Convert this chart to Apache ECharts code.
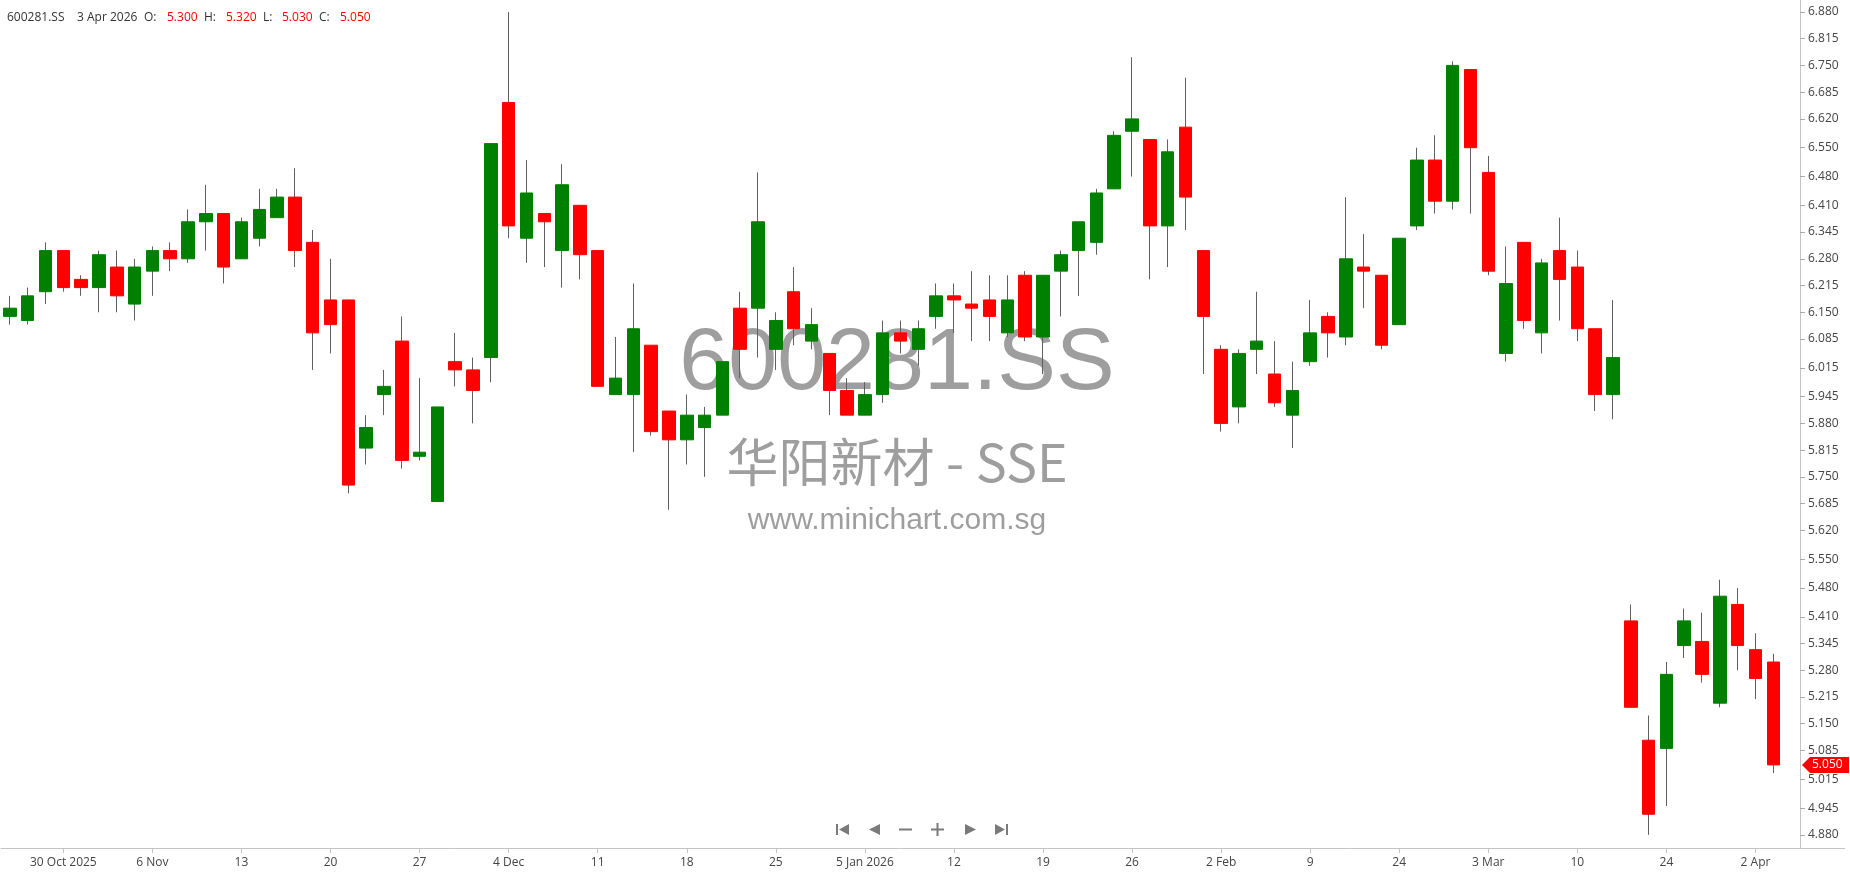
<!DOCTYPE html>
<html><head><meta charset="utf-8">
<script src="https://cdn.jsdelivr.net/npm/echarts@6/dist/echarts.min.js"></script>
<style>html,body{margin:0;padding:0;background:#fff;}#c{width:1850px;height:874px;}</style>
</head><body><div id="c"></div>
<script>
const symbolName = '600281.SS';
const companyLine = '华阳新材 - SSE';
const siteLine = 'www.minichart.com.sg';

const dates = [
'2025-10-27','2025-10-28','2025-10-29','2025-10-30','2025-10-31',
'2025-11-03','2025-11-04','2025-11-05','2025-11-06','2025-11-07',
'2025-11-10','2025-11-11','2025-11-12','2025-11-13','2025-11-14',
'2025-11-17','2025-11-18','2025-11-19','2025-11-20','2025-11-21',
'2025-11-24','2025-11-25','2025-11-26','2025-11-27','2025-11-28',
'2025-12-01','2025-12-02','2025-12-03','2025-12-04','2025-12-05',
'2025-12-08','2025-12-09','2025-12-10','2025-12-11','2025-12-12',
'2025-12-15','2025-12-16','2025-12-17','2025-12-18','2025-12-19',
'2025-12-22','2025-12-23','2025-12-24','2025-12-25','2025-12-26',
'2025-12-29','2025-12-30','2025-12-31',
'2026-01-05','2026-01-06','2026-01-07','2026-01-08','2026-01-09',
'2026-01-12','2026-01-13','2026-01-14','2026-01-15','2026-01-16',
'2026-01-19','2026-01-20','2026-01-21','2026-01-22','2026-01-23',
'2026-01-26','2026-01-27','2026-01-28','2026-01-29','2026-01-30',
'2026-02-02','2026-02-03','2026-02-04','2026-02-05','2026-02-06',
'2026-02-09','2026-02-10','2026-02-11','2026-02-12','2026-02-13',
'2026-02-24','2026-02-25','2026-02-26','2026-02-27',
'2026-03-02','2026-03-03','2026-03-04','2026-03-05','2026-03-06',
'2026-03-09','2026-03-10','2026-03-11','2026-03-12',
'2026-03-20','2026-03-23','2026-03-24','2026-03-25','2026-03-26','2026-03-27','2026-04-01',
'2026-04-02','2026-04-03'
];

const opens = [
6.14,6.13,6.20,6.30,6.23,6.21,6.26,6.17,6.25,6.30,
6.28,6.37,6.39,6.28,6.33,6.38,6.43,6.32,6.18,6.18,
5.82,5.95,6.08,5.80,5.69,6.03,6.01,6.04,6.66,6.33,
6.39,6.30,6.41,6.30,5.95,5.95,6.07,5.91,5.84,5.87,
5.90,6.16,6.16,6.06,6.20,6.08,6.05,5.96,5.90,5.95,
6.10,6.06,6.14,6.19,6.17,6.18,6.10,6.24,6.09,6.25,
6.30,6.32,6.45,6.59,6.57,6.36,6.60,6.30,6.06,5.92,
6.06,6.00,5.90,6.03,6.14,6.09,6.26,6.24,6.12,6.36,
6.52,6.42,6.74,6.49,6.05,6.32,6.10,6.30,6.26,6.11,
5.95,5.40,5.11,5.09,5.34,5.35,5.20,5.44,5.33,5.30
];
const highs = [
6.19,6.21,6.32,6.30,6.24,6.30,6.30,6.28,6.31,6.32,
6.40,6.46,6.39,6.38,6.45,6.45,6.50,6.35,6.28,6.18,
5.90,6.01,6.14,5.99,5.92,6.10,6.04,6.56,6.88,6.52,
6.39,6.51,6.41,6.30,6.09,6.22,6.07,5.91,5.95,5.92,
6.03,6.20,6.49,6.15,6.26,6.16,6.05,5.99,5.98,6.13,
6.13,6.13,6.22,6.22,6.25,6.24,6.24,6.25,6.24,6.30,
6.37,6.45,6.59,6.77,6.57,6.57,6.72,6.30,6.07,6.06,
6.20,6.08,6.03,6.18,6.15,6.43,6.34,6.24,6.33,6.55,
6.58,6.76,6.74,6.53,6.31,6.32,6.28,6.38,6.30,6.11,
6.18,5.44,5.17,5.30,5.43,5.42,5.50,5.48,5.37,5.32
];
const lows = [
6.12,6.12,6.17,6.20,6.19,6.15,6.15,6.13,6.19,6.25,
6.27,6.30,6.22,6.28,6.31,6.38,6.26,6.01,6.05,5.71,
5.78,5.90,5.77,5.79,5.69,5.97,5.88,5.98,6.33,6.27,
6.26,6.21,6.23,5.97,5.95,5.81,5.85,5.67,5.78,5.75,
5.90,5.99,6.04,6.01,6.07,6.06,5.90,5.90,5.90,5.93,
6.05,6.02,6.11,6.10,6.08,6.08,6.09,6.08,6.00,6.14,
6.19,6.29,6.45,6.48,6.23,6.26,6.35,6.00,5.86,5.88,
6.00,5.92,5.82,6.02,6.04,6.07,6.16,6.06,6.12,6.35,
6.39,6.40,6.39,6.24,6.03,6.11,6.05,6.13,6.08,5.91,
5.89,5.19,4.88,4.95,5.31,5.25,5.19,5.28,5.21,5.03
];
const closes = [
6.16,6.19,6.30,6.21,6.21,6.29,6.19,6.26,6.30,6.28,
6.37,6.39,6.26,6.37,6.40,6.43,6.30,6.10,6.12,5.73,
5.87,5.97,5.79,5.81,5.92,6.01,5.96,6.56,6.36,6.44,
6.37,6.46,6.29,5.97,5.99,6.11,5.86,5.84,5.90,5.90,
6.03,6.06,6.37,6.13,6.11,6.12,5.96,5.90,5.95,6.10,
6.08,6.11,6.19,6.18,6.16,6.14,6.18,6.09,6.24,6.29,
6.37,6.44,6.58,6.62,6.36,6.54,6.43,6.14,5.88,6.05,
6.08,5.93,5.96,6.10,6.10,6.28,6.25,6.07,6.33,6.52,
6.42,6.75,6.55,6.25,6.22,6.13,6.27,6.23,6.11,5.95,
6.04,5.19,4.93,5.27,5.40,5.27,5.46,5.34,5.26,5.05
];

const xTickDates = ['2025-10-30','2025-11-06','2025-11-13','2025-11-20','2025-11-27','2025-12-04','2025-12-11','2025-12-18','2025-12-25','2026-01-05','2026-01-12','2026-01-19','2026-01-26','2026-02-02','2026-02-09','2026-02-24','2026-03-03','2026-03-10','2026-03-24','2026-04-02'];
const xTickLabels = ['30 Oct 2025','6 Nov','13','20','27','4 Dec','11','18','25','5 Jan 2026','12','19','26','2 Feb','9','24','3 Mar','10','24','2 Apr'];
const yTickValues = [4.880,4.945,5.015,5.085,5.150,5.215,5.280,5.345,5.410,5.480,5.550,5.620,5.685,5.750,5.815,5.880,5.945,6.015,6.085,6.150,6.215,6.280,6.345,6.410,6.480,6.550,6.620,6.685,6.750,6.815,6.880];

const UP = '#008000', DOWN = '#ff0000', WICK = '#606060';
const FONT = "'Open Sans', sans-serif";

const cats = dates.concat(['']);
const wickData = dates.map((d, i) => [opens[i], closes[i], lows[i], highs[i]]);
const bodyData = dates.map((d, i) => [opens[i], closes[i], Math.min(opens[i], closes[i]), Math.max(opens[i], closes[i])]);
const isTick = (idx, val) => xTickDates.indexOf(val) >= 0;

const chart = echarts.init(document.getElementById('c'), null, {renderer: 'canvas'});
chart.setOption({
  animation: false,
  backgroundColor: '#fff',
  grid: {left: 1, right: 50, top: 0, bottom: 26, containLabel: false},
  xAxis: {
    type: 'category', data: cats, boundaryGap: true,
    axisLine: {lineStyle: {color: '#c4c4c4', width: 1}},
    axisTick: {show: true, interval: isTick, alignWithLabel: true, length: 5, lineStyle: {color: '#c4c4c4'}},
    axisLabel: {interval: isTick, color: '#444', fontFamily: FONT, fontSize: 12, margin: 9,
      formatter: (v) => xTickLabels[xTickDates.indexOf(v)] || ''},
    splitLine: {show: false}
  },
  yAxis: {
    type: 'value', position: 'right', min: 4.848, max: 6.909, scale: true,
    axisLine: {show: true, lineStyle: {color: '#c4c4c4'}},
    axisTick: {show: true, length: 5, customValues: yTickValues, lineStyle: {color: '#aaa'}},
    axisLabel: {customValues: yTickValues, color: '#444', fontFamily: FONT, fontSize: 12, margin: 8,
      formatter: (v) => v.toFixed(3)},
    splitLine: {show: false}
  },
  series: [
    {type: 'candlestick', name: 'wick', data: wickData, barWidth: 1, z: 3,
      itemStyle: {color: WICK, color0: WICK, borderColor: WICK, borderColor0: WICK, borderWidth: 1}},
    {type: 'candlestick', name: 'body', data: bodyData, barWidth: 13, z: 4,
      itemStyle: {color: UP, color0: DOWN, borderColor: UP, borderColor0: DOWN, borderWidth: 1}}
  ]
});

const last = dates.length - 1;
const months = ['Jan','Feb','Mar','Apr','May','Jun','Jul','Aug','Sep','Oct','Nov','Dec'];
const ld = dates[last].split('-');
const lastDateText = (+ld[2]) + ' ' + months[+ld[1] - 1] + ' ' + ld[0];
const py = chart.convertToPixel({yAxisIndex: 0}, closes[last]);

const hdr = (x, text, color) => ({type: 'text', x: x, y: 18, z: 10,
  style: {text: text, fill: color, font: '12px ' + FONT, textVerticalAlign: 'middle'}});
const wm = (y, text, font) => ({type: 'text', x: 897, y: y, z: 0, silent: true,
  style: {text: text, fill: '#9e9e9e', font: font, textAlign: 'center', textVerticalAlign: 'middle'}});
const NAV = '#7a7a7a';
const elements = [
  hdr(7, symbolName, '#333'), hdr(77, lastDateText, '#333'),
  hdr(144, 'O:', '#333'), hdr(167, opens[last].toFixed(3), DOWN),
  hdr(204, 'H:', '#333'), hdr(226, highs[last].toFixed(3), DOWN),
  hdr(263, 'L:', '#333'), hdr(282, lows[last].toFixed(3), DOWN),
  hdr(319, 'C:', '#333'), hdr(340, closes[last].toFixed(3), DOWN),
  wm(365, symbolName, "88px 'Liberation Sans', Arial, sans-serif"),
  wm(462, companyLine, "52px 'Noto Sans CJK SC', sans-serif"),
  wm(521, siteLine, "30px 'Liberation Sans', Arial, sans-serif"),
  {type: 'line', z: 5, shape: {x1: 1800, y1: 848.5, x2: 1845, y2: 848.5}, style: {stroke: '#c4c4c4', lineWidth: 1}},
  {type: 'rect', z: 10, shape: {x: 836, y: 824, width: 2, height: 11}, style: {fill: NAV}},
  {type: 'polygon', z: 10, shape: {points: [[849,824],[849,835],[839,829.5]]}, style: {fill: NAV}},
  {type: 'polygon', z: 10, shape: {points: [[880,824],[880,835],[869,829.5]]}, style: {fill: NAV}},
  {type: 'rect', z: 10, shape: {x: 899, y: 828.5, width: 13, height: 2}, style: {fill: NAV}},
  {type: 'rect', z: 10, shape: {x: 931, y: 828.5, width: 13, height: 2}, style: {fill: NAV}},
  {type: 'rect', z: 10, shape: {x: 936.5, y: 823, width: 2, height: 13}, style: {fill: NAV}},
  {type: 'polygon', z: 10, shape: {points: [[965,824],[965,835],[976,829.5]]}, style: {fill: NAV}},
  {type: 'polygon', z: 10, shape: {points: [[995,824],[995,835],[1005,829.5]]}, style: {fill: NAV}},
  {type: 'rect', z: 10, shape: {x: 1006, y: 824, width: 2, height: 11}, style: {fill: NAV}},
  {type: 'polygon', z: 20, shape: {points: [[1802, py], [1810, py - 8], [1849, py - 8], [1849, py + 8], [1810, py + 8]]}, style: {fill: DOWN}},
  {type: 'text', z: 21, x: 1812, y: py, style: {text: closes[last].toFixed(3), fill: '#fff', font: '12px ' + FONT, textVerticalAlign: 'middle'}}
];
chart.setOption({graphic: {elements: elements}});
</script>
</body></html>
